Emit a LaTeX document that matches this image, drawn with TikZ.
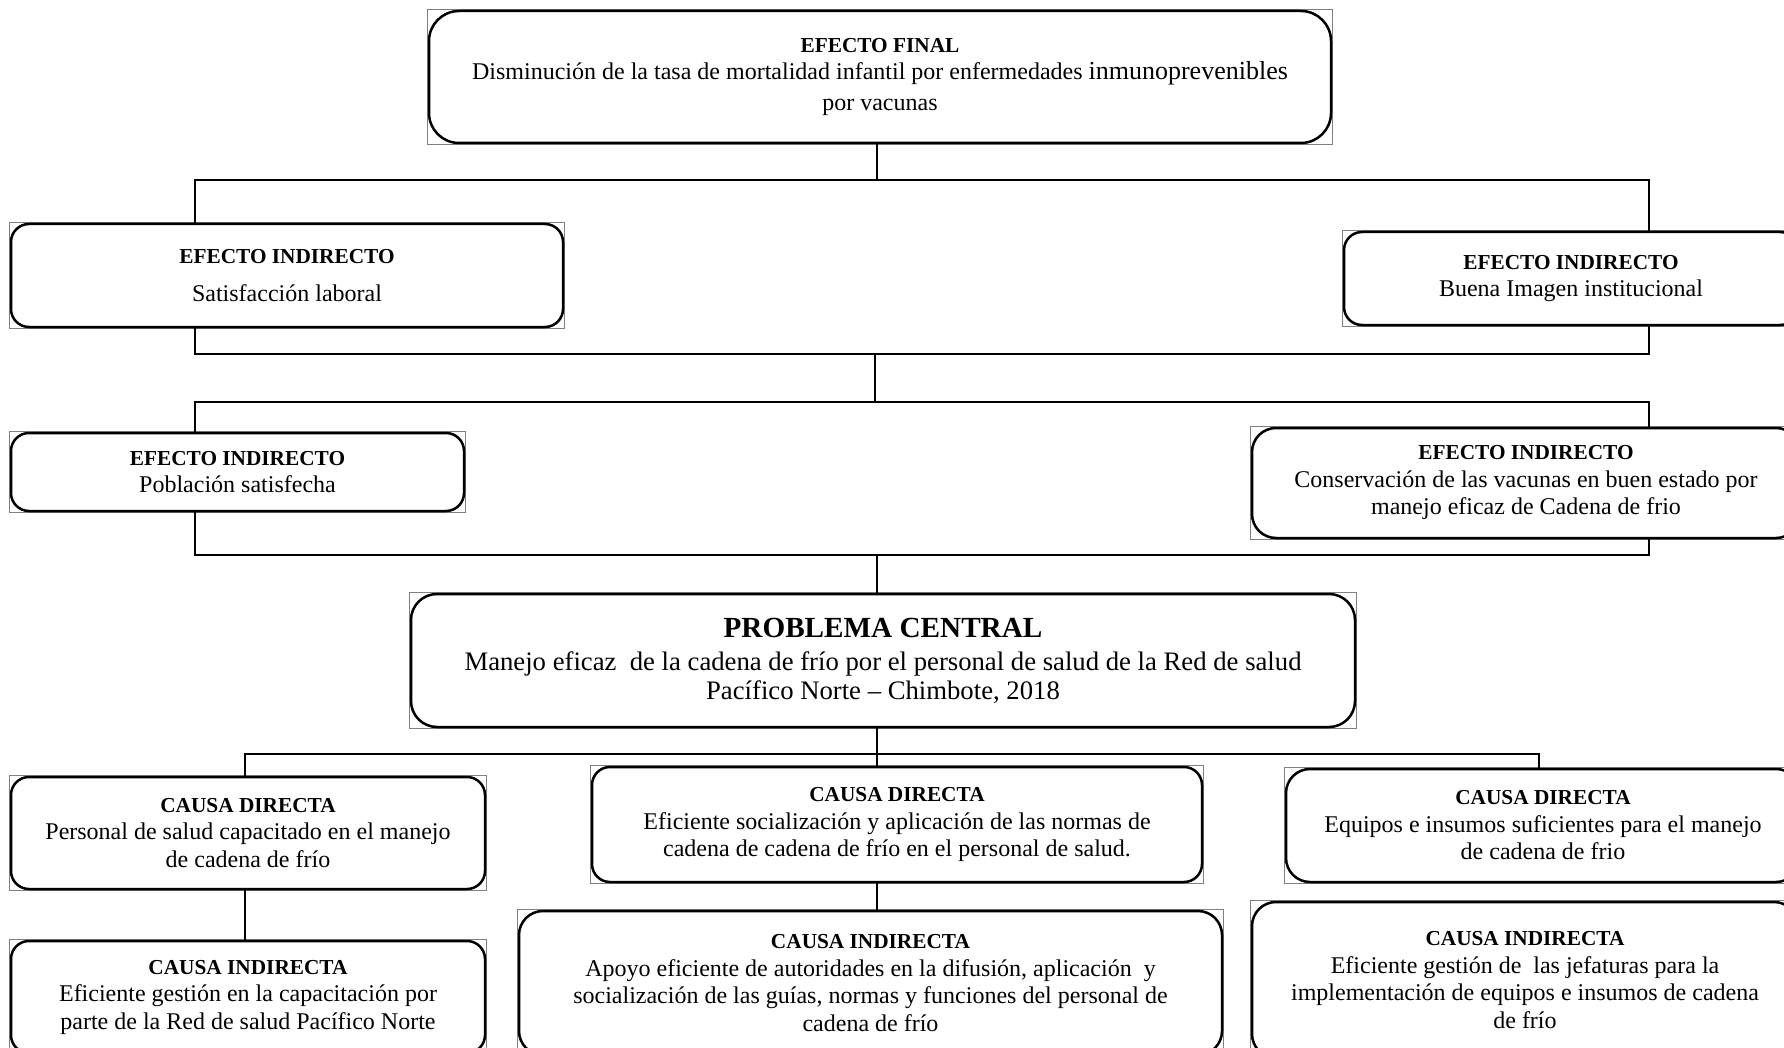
\documentclass[tikz,border=0pt]{standalone}
\usepackage{fontspec}
\setmainfont{Liberation Serif}
\usetikzlibrary{backgrounds}
\tikzstyle{caja} = [
    rectangle,
    rounded corners=18pt,
    draw=black,
    line width=2.5pt,
    align=center,
    inner sep=2pt,
    font=\fontsize{24}{27.5}\selectfont
]
\tikzstyle{cajagrande} = [caja, rounded corners=30pt]
\tikzstyle{marco} = [draw=gray, line width=0.8pt]
\tikzstyle{conector} = [draw=black, line width=2.5pt]
\newcommand{\titulo}[1]{{\fontsize{21.3}{27.5}\selectfont\bfseries #1}}

\begin{document}
\begin{tikzpicture}[x=1pt, y=-1pt]
    \useasboundingbox (0,0) rectangle (1784,1048);
    \clip (0,0) rectangle (1784,1048);

    % efectos
    \node[cajagrande, minimum width=902pt, minimum height=132pt] (final) at (880,77)
        {\titulo{EFECTO FINAL}\\Disminución de la tasa de mortalidad infantil por enfermedades {\fontsize{26}{27.5}\selectfont inmunoprevenibles}\\[3pt]por vacunas};
    \node[caja, minimum width=552pt, minimum height=103pt] (satisf) at (287,275.5)
        {\titulo{EFECTO INDIRECTO}\\[11pt]Satisfacción laboral};
    \node[caja, minimum width=454pt, minimum height=93pt] (imagen) at (1571,278.5)
        {\titulo{EFECTO INDIRECTO}\\Buena Imagen institucional};
    \node[caja, minimum width=453pt, minimum height=78pt] (poblacion) at (237.5,472)
        {\titulo{EFECTO INDIRECTO}\\Población satisfecha};
    \node[caja, minimum width=548pt, minimum height=110pt, rounded corners=24pt] (conserv) at (1526,483)
        {\titulo{EFECTO INDIRECTO}\\Conservación de las vacunas en buen estado por\\manejo eficaz de Cadena de frio};

    % problema
    \node[cajagrande, minimum width=944pt, minimum height=133pt, rounded corners=26pt,
          font=\fontsize{26.7}{29}\selectfont] (central) at (883,660.5)
        {{\fontsize{29.2}{29}\selectfont\bfseries PROBLEMA CENTRAL}\\[4pt]Manejo eficaz\ \ de la cadena de frío por el personal de salud de la Red de salud\\Pacífico Norte – Chimbote, 2018};

    % causas
    \node[caja, minimum width=474pt, minimum height=112pt] (cd1) at (248,833)
        {\titulo{CAUSA DIRECTA}\\Personal de salud capacitado en el manejo\\de cadena de frío};
    \node[caja, minimum width=610pt, minimum height=115pt] (cd2) at (897,824.5)
        {\titulo{CAUSA DIRECTA}\\Eficiente socialización y aplicación de las normas de\\cadena de cadena de frío en el personal de salud.};
    \node[caja, minimum width=514pt, minimum height=113pt, rounded corners=24pt] (cd3) at (1543,825.5)
        {\titulo{CAUSA DIRECTA}\\Equipos e insumos suficientes para el manejo\\de cadena de frio};
    \node[caja, minimum width=474pt, minimum height=112pt] (ci1) at (248,997)
        {\titulo{CAUSA INDIRECTA}\\Eficiente gestión en la capacitación por\\parte de la Red de salud Pacífico Norte};
    \node[caja, minimum width=703pt, minimum height=144pt, rounded corners=24pt] (ci2) at (870.5,983)
        {\titulo{CAUSA INDIRECTA}\\Apoyo eficiente de autoridades en la difusión, aplicación\ \ y\\socialización de las guías, normas y funciones del personal de\\cadena de frío};
    \node[caja, minimum width=546pt, minimum height=156pt, rounded corners=24pt] (ci3) at (1525,980)
        {\titulo{CAUSA INDIRECTA}\\Eficiente gestión de\ \ las jefaturas para la\\implementación de equipos e insumos de cadena\\de frío};

    % marcos de imagen
    \begin{scope}[on background layer]
        \clip (0,0) rectangle (1784,1048);
        \foreach \n in {final,satisf,imagen,poblacion,conserv,central,cd1,cd2,cd3,ci1,ci2,ci3}
            \draw[marco] (\n.north west) rectangle (\n.south east);
    \end{scope}

    % lineas
    \coordinate (b1l) at (195,180);
    \coordinate (b1r) at (1649,180);
    \coordinate (b2l) at (195,354);
    \coordinate (b2r) at (1649,354);
    \coordinate (b2c) at (875,354);
    \coordinate (b3c) at (875,402);
    \coordinate (b3l) at (195,402);
    \coordinate (b3r) at (1649,402);
    \coordinate (b4l) at (195,555);
    \coordinate (b4r) at (1649,555);
    \coordinate (b4c) at (877,555);
    \coordinate (b5l) at (245,754);
    \coordinate (b5r) at (1539,754);
    \coordinate (b5c) at (877,754);

    \draw[conector] ([xshift=-3pt]final.south) -- ([xshift=-3pt]final.south |- b1l);
    \draw[conector] (satisf.north -| b1l) |- (b1r) -- (imagen.north -| b1r);
    \draw[conector] (satisf.south -| b2l) |- (b2r) -- (imagen.south -| b2r);
    \draw[conector] (b2c) -- (b3c);
    \draw[conector] (poblacion.north -| b3l) |- (b3r) -- (conserv.north -| b3r);
    \draw[conector] (poblacion.south -| b4l) |- (b4r) -- (conserv.south -| b4r);
    \draw[conector] (b4c) -- (central.north -| b4c);
    \draw[conector] (central.south -| b5c) -- (b5c);
    \draw[conector] (cd1.north -| b5l) |- (b5r) -- (cd3.north -| b5r);
    \draw[conector] (b5c) -- (cd2.north -| b5c);
    \draw[conector] (cd1.south -| b5l) -- (ci1.north -| b5l);
    \draw[conector] (cd2.south -| b5c) -- (ci2.north -| b5c);
\end{tikzpicture}
\end{document}
